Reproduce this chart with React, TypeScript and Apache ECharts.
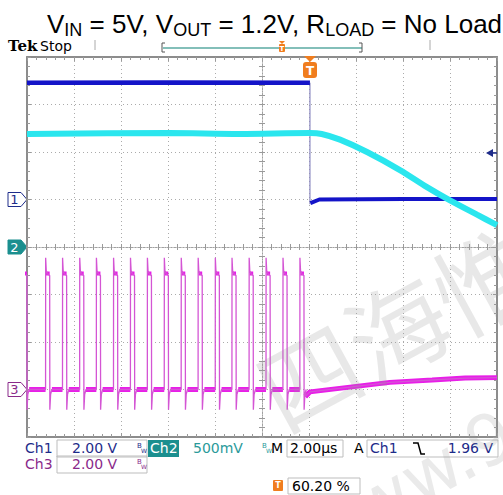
import React, { useEffect, useRef } from "react";
import * as echarts from "echarts";

// ---------------- data ----------------
// time axis in microseconds, trigger at 0, 2 us/div, trigger position 60.20 %
const timeMinUs = -12.04;
const timeMaxUs = 7.96;

// Ch1 (2 V/div)
const ch1BeforeUs = [-12.04, -6.0, 0.0];
const ch1BeforeV = [4.92, 4.93, 4.92];
const ch1EdgeUs = [0.0, 0.0];
const ch1EdgeV = [4.92, -0.2];
const ch1AfterUs = [0.02, 0.4, 4.0, 7.96];
const ch1AfterV = [-0.15, 0.0, 0.02, 0.02];

// Ch2 (500 mV/div) – VOUT
const ch2Us = [-12.04, -6.0, -3.0, 0.0, 0.5, 1.28, 2.43, 3.83, 4.98, 5.96, 7.11, 7.96];
const ch2V = [1.19, 1.2, 1.19, 1.2, 1.19, 1.13, 1.0, 0.81, 0.63, 0.49, 0.34, 0.23];

// Ch3 (2 V/div) – switch node: rising-edge times of each pulse
const ch3RiseUs = [
  -12.22, -11.25, -10.53, -9.8, -9.09, -8.36, -7.64, -6.92, -6.2, -5.48,
  -4.76, -4.03, -3.32, -2.59, -1.87, -1.15, -0.43,
];
// one switching pulse, relative to its rising edge
const pulseDtUs = [0, 0.004, 0.03, 0.1, 0.175, 0.182, 0.215, 0.27];
const pulseV = [0, 5.55, 5.0, 4.85, 4.8, -0.85, -0.2, 0.0];
const pulseHighFromUs = 0.02;
const pulseHighToUs = 0.175;
const pulseLowFromUs = 0.27;
const highLevelV = 4.88;
const lowLevelV = 0.0;
// Ch3 after switching stops
const ch3TailUs = [-0.2, 0.0, 1.7, 3.4, 5.2, 6.6, 7.96];
const ch3TailV = [-0.3, -0.1, 0.1, 0.3, 0.4, 0.48, 0.5];

// channel scales (V per division) and ground positions (divisions from bottom)
const ch1Scale = 2, ch1Ground = 5;
const ch2Scale = 0.5, ch2Ground = 4;
const ch3Scale = 2, ch3Ground = 1;

// ---------------- colours ----------------
const C1 = "#1414c8";
const C2 = "#2ae6ee";
const C3 = "#e81ee8";
const NAVY = "#1e2c8a";
const PURPLE = "#8a2a8a";
const TEAL = "#1b8f8f";
const ORANGE = "#f07d1e";

function zip(xs: number[], ys: number[]) {
  return xs.map((x, i) => [x, ys[i]]);
}

function buildCh3() {
  const main: any[] = [];
  const high: any[] = [];
  const low: any[] = [];
  for (let i = 0; i < ch3RiseUs.length; i++) {
    const t0 = ch3RiseUs[i];
    for (let k = 0; k < pulseDtUs.length; k++) main.push([t0 + pulseDtUs[k], pulseV[k]]);
    high.push([t0 + pulseHighFromUs, highLevelV], [t0 + pulseHighToUs, highLevelV], [null, null]);
    const next = i + 1 < ch3RiseUs.length ? ch3RiseUs[i + 1] : null;
    if (next !== null) {
      low.push([t0 + pulseLowFromUs, lowLevelV], [next, lowLevelV], [null, null]);
      main.push([next, lowLevelV]);
    }
  }
  const tail = zip(ch3TailUs, ch3TailV);
  tail.forEach((p) => main.push(p));
  tail.forEach((p) => low.push(p));
  return { main, high, low };
}

function axisRange(scale: number, ground: number) {
  return { min: -ground * scale, max: (8 - ground) * scale };
}

const App: React.FC = () => {
  const ref = useRef<HTMLDivElement>(null);
  useEffect(() => {
    if (!ref.current) return;
    const chart = echarts.init(ref.current, undefined, { renderer: "svg" });
    const ch3 = buildCh3();

    const tickColor = "#9a9a9a";
    const borderColor = "#8c8c8c";
    const divAxis = (pos: string, extra: any) => ({
      type: "value",
      min: -5,
      max: 5,
      interval: 1,
      position: pos,
      axisLabel: { show: false },
      axisTick: { show: true, inside: true, length: 4, lineStyle: { color: tickColor } },
      minorTick: { show: true, splitNumber: 5, length: 3, lineStyle: { color: tickColor } },
      splitLine: { show: false },
      ...extra,
    });
    const divAxisY = (pos: string, extra: any) => ({
      type: "value",
      min: -4,
      max: 4,
      interval: 1,
      position: pos,
      axisLabel: { show: false },
      axisTick: { show: true, inside: true, length: 4, lineStyle: { color: tickColor } },
      minorTick: { show: true, splitNumber: 5, length: 3, lineStyle: { color: tickColor } },
      splitLine: { show: false },
      ...extra,
    });
    const gridLine = { show: true, lineStyle: { color: "#ababab", type: [1, 3], width: 1 } };
    const border = { show: true, onZero: false, lineStyle: { color: borderColor, width: 2 } };
    const center = { show: true, onZero: true, onZeroAxisIndex: 0, lineStyle: { color: "#a0a0a0", type: [1, 2], width: 1 } };
    const centerTick = { show: true, inside: true, length: 3, lineStyle: { color: tickColor } };

    const marker = (label: string, y: number, stroke: string, fill: string, txtColor: string) => ({
      type: "group",
      z: 100,
      children: [
        {
          type: "polygon",
          shape: { points: [[8, y - 7], [21, y - 7], [27, y], [21, y + 7], [8, y + 7]] },
          style: { fill, stroke, lineWidth: 1 },
        },
        {
          type: "text",
          x: 14.5,
          y: y,
          style: { text: label, fill: txtColor, font: "13px 'DejaVu Sans'", align: "center", verticalAlign: "middle" },
        },
      ],
    });

    const bw = (x: number, y: number, color: string) => ({
      type: "group",
      children: [
        { type: "text", x, y: y - 6, style: { text: "B", fill: color, font: "7px 'DejaVu Sans'" } },
        { type: "text", x: x + 4, y: y - 1, style: { text: "W", fill: color, font: "6px 'DejaVu Sans'" } },
      ],
    });
    const box = (x: number, y: number, w: number, h: number) => ({
      type: "rect",
      shape: { x, y, width: w, height: h },
      style: { fill: "none", stroke: "#bdbdbd", lineWidth: 1 },
    });
    const txt = (x: number, y: number, text: string, color: string, size = 14, align = "left", weight = "normal") => ({
      type: "text",
      x,
      y,
      style: { text, fill: color, font: `${weight} ${size}px 'DejaVu Sans'`, align, verticalAlign: "middle" },
    });

    const option: any = {
      animation: false,
      backgroundColor: "#ffffff",
      grid: { left: 27, right: 6, top: 57, bottom: 58, show: false },
      xAxis: [
        divAxis("bottom", { axisLine: border, splitLine: gridLine }),
        divAxis("top", { axisLine: border }),
        divAxis("bottom", { axisLine: center, axisTick: centerTick }),
        divAxis("top", { axisLine: center, axisTick: centerTick }),
        { type: "value", min: timeMinUs, max: timeMaxUs, show: false },
      ],
      yAxis: [
        divAxisY("left", { axisLine: border, splitLine: gridLine }),
        divAxisY("right", { axisLine: border }),
        divAxisY("left", { axisLine: center, axisTick: centerTick }),
        divAxisY("right", { axisLine: center, axisTick: centerTick }),
        { type: "value", ...axisRange(ch1Scale, ch1Ground), show: false },
        { type: "value", ...axisRange(ch2Scale, ch2Ground), show: false },
        { type: "value", ...axisRange(ch3Scale, ch3Ground), show: false },
      ],
      series: [
        // Ch3
        { type: "line", name: "Ch3 band low", xAxisIndex: 4, yAxisIndex: 6, data: ch3.low, showSymbol: false, connectNulls: false, lineStyle: { color: C3, width: 5 }, z: 3 },
        { type: "line", name: "Ch3 band high", xAxisIndex: 4, yAxisIndex: 6, data: ch3.high, showSymbol: false, connectNulls: false, lineStyle: { color: C3, width: 4 }, z: 3 },
        { type: "line", name: "Ch3", xAxisIndex: 4, yAxisIndex: 6, data: ch3.main, showSymbol: false, lineStyle: { color: "#d455d4", width: 1.3 }, z: 4 },
        // Ch1
        { type: "line", name: "Ch1 edge", xAxisIndex: 4, yAxisIndex: 4, data: zip(ch1EdgeUs, ch1EdgeV), showSymbol: false, lineStyle: { color: "#8a88c0", width: 1.2 }, z: 4 },
        { type: "line", name: "Ch1 before", xAxisIndex: 4, yAxisIndex: 4, data: zip(ch1BeforeUs, ch1BeforeV), showSymbol: false, lineStyle: { color: C1, width: 4.5 }, z: 5 },
        { type: "line", name: "Ch1 after", xAxisIndex: 4, yAxisIndex: 4, data: zip(ch1AfterUs, ch1AfterV), showSymbol: false, lineStyle: { color: C1, width: 4 }, z: 5 },
        // Ch2
        { type: "line", name: "Ch2", xAxisIndex: 4, yAxisIndex: 5, data: zip(ch2Us, ch2V), showSymbol: false, smooth: 0.3, lineStyle: { color: C2, width: 6 }, z: 6 },
      ],
      graphic: [
        // title
        {
          type: "text",
          x: 47,
          y: 9,
          z: 100,
          style: {
            text: "{m|V}{s|IN}{m| = 5V, V}{s|OUT}{m| = 1.2V, R}{s|LOAD}{m| = No Load}",
            verticalAlign: "top",
            fill: "#000",
            rich: {
              m: { fontSize: 26, fontFamily: "'Liberation Sans', Arial", lineHeight: 30, fill: "#000" },
              s: { fontSize: 18, fontFamily: "'Liberation Sans', Arial", lineHeight: 18, verticalAlign: "bottom", fill: "#000" },
            },
          },
        },
        // Tek Stop
        { type: "text", x: 8, y: 46, z: 100, style: { text: "Tek", fill: "#000", font: "bold 15px 'DejaVu Serif'", verticalAlign: "middle" } },
        { type: "text", x: 40, y: 46, z: 100, style: { text: "Stop", fill: "#000", font: "14px 'DejaVu Sans'", verticalAlign: "middle" } },
        // record bar
        { type: "line", z: 100, shape: { x1: 95, y1: 40, x2: 95, y2: 50 }, style: { stroke: "#aaaaaa", lineWidth: 1 } },
        { type: "line", z: 100, shape: { x1: 430, y1: 40, x2: 430, y2: 50 }, style: { stroke: "#aaaaaa", lineWidth: 1 } },
        { type: "line", z: 100, shape: { x1: 163, y1: 48, x2: 362, y2: 48 }, style: { stroke: "#5aaaa2", lineWidth: 1.5 } },
        { type: "polyline", z: 100, shape: { points: [[165, 43], [162, 43], [162, 52], [165, 52]] }, style: { stroke: "#555", lineWidth: 1, fill: "none" } },
        { type: "polyline", z: 100, shape: { points: [[359, 43], [362, 43], [362, 52], [359, 52]] }, style: { stroke: "#555", lineWidth: 1, fill: "none" } },
        { type: "polygon", z: 101, shape: { points: [[279, 41], [285, 41], [282, 44]] }, style: { fill: ORANGE } },
        { type: "rect", z: 101, shape: { x: 279, y: 44, width: 6, height: 8, r: 1 }, style: { fill: ORANGE } },
        { type: "text", z: 102, x: 282, y: 48.5, style: { text: "T", fill: "#fff", font: "bold 7px 'DejaVu Sans'", align: "center", verticalAlign: "middle" } },
        // trigger marker on the graticule
        { type: "polygon", z: 101, shape: { points: [[304, 56], [316, 56], [310, 62]] }, style: { fill: ORANGE } },
        { type: "rect", z: 101, shape: { x: 303, y: 62, width: 14, height: 16, r: 3 }, style: { fill: ORANGE } },
        { type: "text", z: 102, x: 310, y: 70.5, style: { text: "T", fill: "#fff", font: "bold 12px 'DejaVu Sans'", align: "center", verticalAlign: "middle" } },
        // trigger level arrow
        { type: "polygon", z: 101, shape: { points: [[486, 153], [493, 149], [493, 157]] }, style: { fill: NAVY } },
        { type: "line", z: 101, shape: { x1: 492, y1: 153, x2: 497, y2: 153 }, style: { stroke: NAVY, lineWidth: 1.5 } },
        // channel ground markers
        marker("1", 199.5, NAVY, "#ffffff", NAVY),
        marker("2", 247, TEAL, TEAL, "#ffffff"),
        marker("3", 389.5, PURPLE, "#ffffff", PURPLE),
        // bottom readout row 1
        txt(25, 448, "Ch1", NAVY, 14),
        box(57, 440, 90, 17),
        txt(72, 448, "2.00 V", NAVY, 14),
        bw(137, 448, NAVY),
        { type: "rect", shape: { x: 148, y: 440, width: 31, height: 17 }, style: { fill: TEAL } },
        txt(150, 448, "Ch2", "#ffffff", 14),
        txt(193, 448, "500mV", "#2a9a9a", 14),
        bw(262, 448, "#2a9a9a"),
        txt(271, 448, "M", "#000", 14),
        box(287, 440, 56, 17),
        txt(290, 448, "2.00µs", "#000", 14),
        txt(354, 448, "A", "#000", 14),
        box(367, 440, 131, 17),
        txt(370, 448, "Ch1", NAVY, 14),
        { type: "polyline", shape: { points: [[413, 443], [418, 443], [421, 454], [425, 454]] }, style: { stroke: "#000", lineWidth: 1.5, fill: "none" } },
        txt(493, 448, "1.96 V", NAVY, 14, "right"),
        // row 2
        txt(25, 464, "Ch3", PURPLE, 14),
        box(57, 456, 90, 17),
        txt(72, 464, "2.00 V", PURPLE, 14),
        bw(137, 464, PURPLE),
        // row 3
        { type: "rect", shape: { x: 273, y: 480, width: 10, height: 11, r: 1 }, style: { fill: ORANGE } },
        { type: "text", x: 278, y: 485.5, style: { text: "T", fill: "#fff", font: "bold 8px 'DejaVu Sans'", align: "center", verticalAlign: "middle" } },
        box(288, 478, 72, 16),
        txt(292, 486, "60.20 %", "#000", 14),
        // watermark
        {
          type: "text",
          z: 200,
          x: 395,
          y: 325,
          rotation: 0.5,
          style: { text: "四海惟", fill: "rgba(150,150,150,0.22)", font: "100px 'Noto Sans CJK SC'", align: "center", verticalAlign: "middle" },
        },
        {
          type: "text",
          z: 200,
          x: 450,
          y: 462,
          rotation: 0.5,
          style: { text: "ww.9c", fill: "rgba(150,150,150,0.2)", font: "70px 'DejaVu Sans'", align: "center", verticalAlign: "middle" },
        },
      ],
    };
    chart.setOption(option);
    return () => chart.dispose();
  }, []);
  return <div ref={ref} style={{ position: "absolute", left: 0, top: 0, width: 503, height: 495 }} />;
};

export default App;
